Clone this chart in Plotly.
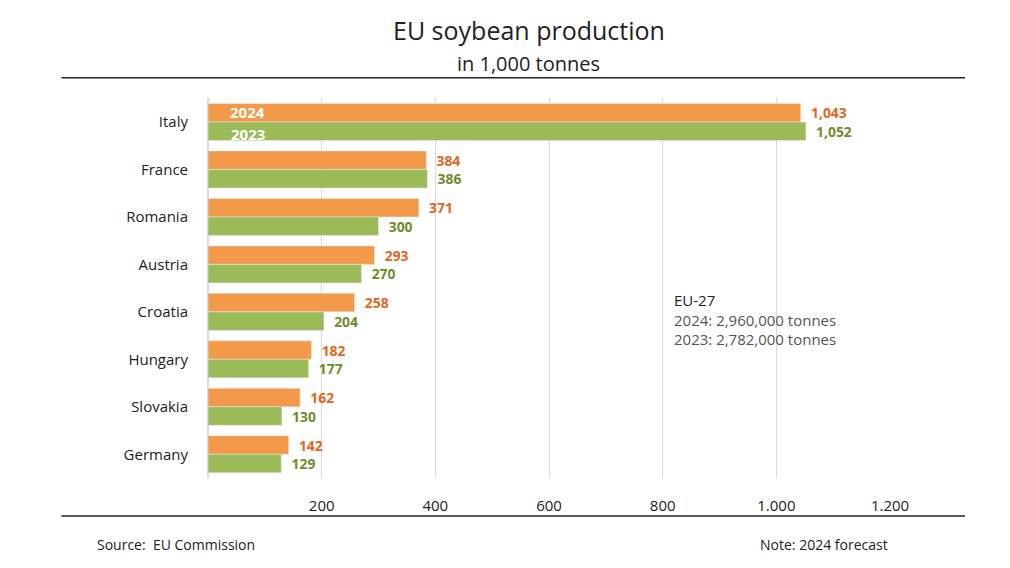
import plotly.graph_objects as go

countries = ["Italy", "France", "Romania", "Austria", "Croatia", "Hungary", "Slovakia", "Germany"]
prod_2024 = [1043, 384, 371, 293, 258, 182, 162, 142]
prod_2023 = [1052, 386, 300, 270, 204, 177, 130, 129]
tick_vals = [200, 400, 600, 800, 1000, 1200]
tick_text = ["200", "400", "600", "800", "1.000", "1.200"]

orange = "#F39A4A"
green = "#9BBB59"

fig = go.Figure()
fig.add_trace(go.Bar(
    y=countries, x=prod_2024, orientation="h", name="2024",
    marker=dict(color=orange),
    text=[f"  {v:,}" for v in prod_2024], textposition="outside",
    textfont=dict(color="#E2661C", size=15, family="Open Sans", weight="bold"),
    cliponaxis=False,
))
fig.add_trace(go.Bar(
    y=countries, x=prod_2023, orientation="h", name="2023",
    marker=dict(color=green),
    text=[f"  {v:,}" for v in prod_2023], textposition="outside",
    textfont=dict(color="#6F8C2C", size=15, family="Open Sans", weight="bold"),
    cliponaxis=False,
))

# year labels inside the Italy bars
fig.add_annotation(x=70, y=0, yshift=10, text="<b>2024</b>", showarrow=False,
                   xref="x", yref="y", font=dict(color="white", size=15))
fig.add_annotation(x=70, y=0, yshift=-12, text="<b>2023</b>", showarrow=False,
                   xref="x", yref="y", font=dict(color="white", size=15))

fig.add_annotation(x=0.68, y=0.5, xref="paper", yref="paper", xanchor="left", yanchor="top",
                   align="left", showarrow=False,
                   text="<span style='color:#222'>EU-27</span><br>2024: 2,960,000 tonnes<br>2023: 2,782,000 tonnes",
                   font=dict(size=15, color="#555"))

# titles
fig.add_annotation(x=0.5, y=22, xref="paper", yref="paper", showarrow=False,
                   text="EU soybean production", font=dict(size=25, color="#222"))
fig.update_annotations()

fig.update_layout(
    width=1010, height=568,
    margin=dict(l=200, r=128, t=90, b=98, autoexpand=False),
    barmode="group", bargap=0.22, bargroupgap=0,
    showlegend=False,
    plot_bgcolor="white", paper_bgcolor="white",
    font=dict(family="Open Sans", size=15, color="#222"),
    xaxis=dict(range=[0, 1200], tickvals=tick_vals, ticktext=tick_text, automargin=False,
               showgrid=True, gridcolor="#d9d9d9", zeroline=True, zerolinecolor="#d9d9d9",
               ticks="outside", ticklen=14, tickcolor="rgba(0,0,0,0)"),
    yaxis=dict(autorange="reversed", automargin=False, ticks="outside", ticklen=16,
               tickcolor="rgba(0,0,0,0)"),
    shapes=[
        dict(type="line", xref="paper", yref="paper", x0=-0.215, x1=1.11, y0=1.053, y1=1.053,
             line=dict(color="#222", width=1.5)),
        dict(type="line", xref="paper", yref="paper", x0=-0.215, x1=1.11, y0=-0.1, y1=-0.1,
             line=dict(color="#222", width=1.5)),
    ],
)
# replace placeholder title annotation with properly placed ones
fig.layout.annotations = fig.layout.annotations[:3]
fig.add_annotation(x=0.47, y=(470 - 22) / 380, xref="paper", yref="paper", showarrow=False,
                   yanchor="middle", text="EU soybean production", font=dict(size=25, color="#222"))
fig.add_annotation(x=0.47, y=(470 - 55) / 380, xref="paper", yref="paper", showarrow=False,
                   yanchor="middle", text="in 1,000 tonnes", font=dict(size=20, color="#222"))
fig.add_annotation(x=-0.166, y=-0.145, xref="paper", yref="paper", xanchor="left", yanchor="top",
                   text="Source:  EU Commission", showarrow=False, font=dict(size=14))
fig.add_annotation(x=1.0, y=-0.145, xref="paper", yref="paper", xanchor="right", yanchor="top",
                   text="Note: 2024 forecast", showarrow=False, font=dict(size=14))

fig.write_html("out.html")
